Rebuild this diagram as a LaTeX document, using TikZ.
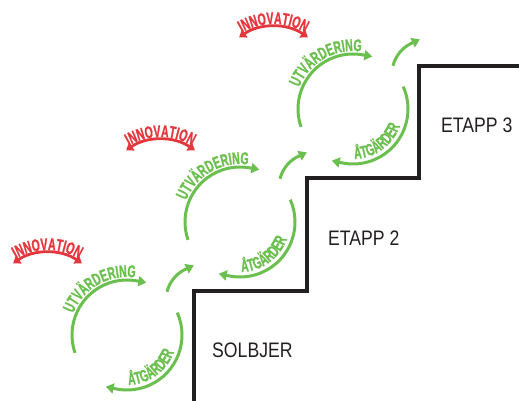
\documentclass[tikz,border=0pt]{standalone}
\usepackage{fontspec}
\usetikzlibrary{arrows.meta,decorations.text}
\newfontfamily\arcfamily[FakeStretch=0.62,FakeBold=1]{Liberation Sans Bold}
\newfontfamily\labelfamily[FakeStretch=0.84]{Liberation Sans}
\newcommand\arcstyle{\arcfamily\fontsize{17}{17}\selectfont}
\definecolor{cgreen}{HTML}{6BBF4E}
\definecolor{cred}{HTML}{E4373D}
\definecolor{cdark}{HTML}{231F20}
\begin{document}
\begin{tikzpicture}[x=1pt,y=1pt,
  gline/.style={draw=cgreen, line width=3pt},
  rline/.style={draw=cred, line width=2.8pt},
  gtip/.style={-{Triangle[length=8pt,width=10pt]}},
  rtips/.style={{Triangle[length=7pt,width=9.5pt]}-{Triangle[length=7pt,width=9.5pt]}},
  lbl/.style={font=\labelfamily\fontsize{21}{21}\selectfont, text=cdark, inner sep=0pt, anchor=west},
  stairline/.style={draw=cdark, line width=4pt, miter limit=10}]
\useasboundingbox (0,0) rectangle (519,401);
% staircase
\draw[stairline] (194,-5) -- (194,110) -- (307,110) -- (307,223) -- (419,223) -- (419,335) -- (525,335);
\node[lbl] (solbjer) at (212,51) {SOLBJER};
\node[lbl] (etapp2) at (328,163) {ETAPP 2};
\node[lbl] (etapp3) at (441,276) {ETAPP 3};
% cycles
\foreach \i in {0,1,2} {
  \begin{scope}[shift={(113*\i,113*\i)}]
    \arcstyle
    \coordinate (gc\i) at (127,66);
    \coordinate (sc\i) at (200,101);
    \coordinate (rc\i) at (47.5,88.4);
    % green arcs
    \draw[gline, gtip] ([shift={(199:55)}]gc\i) arc[start angle=199, end angle=80, radius=55] -- ++(9.8,-1.7);
    \draw[gline, gtip] ([shift={(24:55)}]gc\i) arc[start angle=24, end angle=-102, radius=55] -- ++(-9.8,2.1);
    \draw[gline, gtip] ([shift={(166:34)}]sc\i) arc[start angle=166, end angle=115, radius=34] -- ++(8.2,3.8);
    % red arc
    \draw[rline, rtips] ([shift={(125:60)}]rc\i) arc[start angle=125, end angle=55, radius=60];
    % texts
    \path[decorate, decoration={text along path, text align=center, text color=cred,
      text={|\arcstyle|INNOVATION}}] ([shift={(150:62.5)}]rc\i) arc[start angle=150, end angle=30, radius=62.5];
    \path[decorate, decoration={text along path, text align=center, text color=cgreen,
      text={|\arcstyle|UTVÄRDERING}}] ([shift={(180:58)}]gc\i) arc[start angle=180, end angle=60, radius=58];
    \path[decorate, decoration={text along path, text align=center, text color=cgreen,
      text={|\arcstyle|ÅTGÄRDER}}] ([shift={(246:50)}]gc\i) arc[start angle=246, end angle=366, radius=50];
  \end{scope}
}
\end{tikzpicture}
\end{document}
